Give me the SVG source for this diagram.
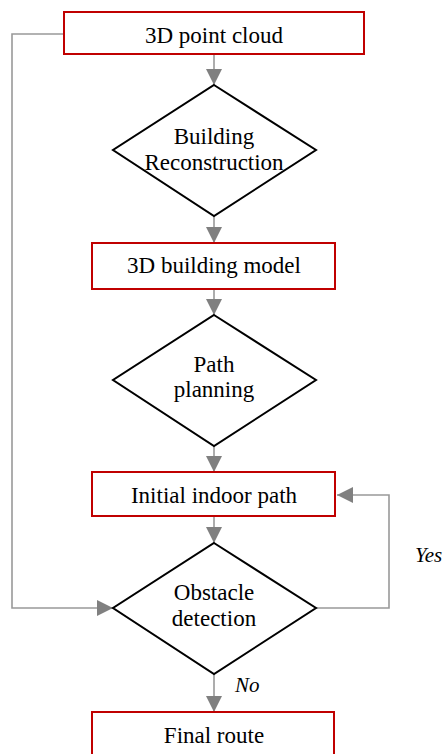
<svg xmlns="http://www.w3.org/2000/svg" width="444" height="754" viewBox="0 0 444 754">
<defs>
<style>
.box{fill:#fff;stroke:#c00000;stroke-width:2}
.dia{fill:#fff;stroke:#000;stroke-width:2}
.t{font-family:'Liberation Serif',serif;font-size:23px;fill:#000;text-anchor:middle}
.lbl{font-family:'Liberation Serif',serif;font-size:21px;font-style:italic;fill:#000}
.c{fill:none;stroke:#999;stroke-width:1.6}
</style>
<marker id="ah" markerWidth="16" markerHeight="16" refX="16" refY="8" orient="auto" markerUnits="userSpaceOnUse">
<path d="M0,0 L16,8 L0,16 Z" fill="#808080"/>
</marker>
</defs>
<rect width="444" height="754" fill="#fff"/>
<g id="connectors">
<line class="c" x1="214" y1="54" x2="214" y2="85" marker-end="url(#ah)"/>
<line class="c" x1="214" y1="216" x2="214" y2="243" marker-end="url(#ah)"/>
<line class="c" x1="214" y1="289" x2="214" y2="315" marker-end="url(#ah)"/>
<line class="c" x1="214" y1="446" x2="214" y2="472" marker-end="url(#ah)"/>
<line class="c" x1="214" y1="516" x2="214" y2="543" marker-end="url(#ah)"/>
<line class="c" x1="214" y1="674" x2="214" y2="712" marker-end="url(#ah)"/>
<polyline class="c" points="64,34 12,34 12,608 113,608" marker-end="url(#ah)"/>
<polyline class="c" points="316,608 389,608 389,495 337,495" marker-end="url(#ah)"/>
<text class="lbl" x="235" y="692">No</text>
<text class="lbl" x="415" y="562">Yes</text>
</g>
<g id="n1"><rect class="box" x="64" y="12" width="300" height="42"/><text class="t" x="214" y="43">3D point cloud</text></g>
<g id="n2"><polygon class="dia" points="214,85 316,150 214,216 113,150"/><text class="t" x="214" y="144">Building</text><text class="t" x="214" y="170">Reconstruction</text></g>
<g id="n3"><rect class="box" x="92" y="243" width="243" height="46"/><text class="t" x="214" y="273">3D building model</text></g>
<g id="n4"><polygon class="dia" points="214,315 316,380 214,446 113,380"/><text class="t" x="214" y="372">Path</text><text class="t" x="214" y="397">planning</text></g>
<g id="n5"><rect class="box" x="92" y="472" width="243" height="44"/><text class="t" x="214" y="503">Initial indoor path</text></g>
<g id="n6"><polygon class="dia" points="214,543 316,608 214,674 113,608"/><text class="t" x="214" y="600">Obstacle</text><text class="t" x="214" y="626">detection</text></g>
<g id="n7"><rect class="box" x="92" y="712" width="242" height="50"/><text class="t" x="214" y="743">Final route</text></g>
</svg>
